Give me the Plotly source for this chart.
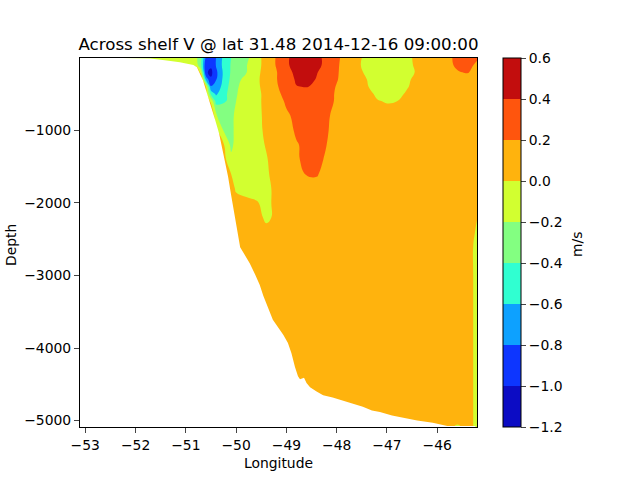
import plotly.graph_objects as go

lon = [-53.1, -51.6, -51.0, -50.8, -50.7, -50.6, -50.5, -50.4, -50.2, -50.1, -50.0, -49.8, -49.6, -49.4, -49.2, -49.0,
       -48.8, -48.6, -48.4, -48.2, -48.0, -47.8, -47.6, -47.4, -47.2, -47.0, -46.8, -46.6, -46.4, -46.2, -46.0,
       -45.8, -45.6, -45.4, -45.3, -45.2]
depth = [0, -100, -200, -300, -400, -500, -600, -800, -1000, -1200, -1400, -1600, -1800, -2000, -2200, -2400,
         -2600, -3000, -5000, -5100]

v_0000 = [-.1, -.1, -.1, -.15, -.33, -.85, -.9, -.8, -.47, -.4, -.33, -.24, -.1, .1, .21, .36, .5, .52, .48, .32, .24, .12, .05, -.05, -.09, -.1, -.1, -.06, .06, .1, .14, .17, .23, .28, .26, .21]
v_0100 = [-.05, -.05, -.05, -.1, -.35, -.97, -.96, -.79, -.46, -.39, -.32, -.21, -.1, .1, .21, .36, .5, .54, .49, .31, .23, .11, .04, -.06, -.1, -.12, -.12, -.07, .05, .1, .13, .17, .22, .23, .205, .18]
v_0200 = [.1, .1, .1, .3, -.1, -.97, -1.05, -.85, -.47, -.385, -.3, -.21, -.07, .1, .19, .33, .45, .5, .41, .33, .22, .12, .05, -.03, -.1, -.13, -.13, -.09, .03, .07, .1, .14, .19, .21, .18, .14]
v_0300 = [.2, .2, .2, .4, .3, -.65, -.97, -.81, -.47, -.365, -.26, -.14, -.05, .1, .19, .32, .42, .46, .39, .3, .21, .13, .07, 0, -.07, -.1, -.1, -.03, .05, .08, .09, .1, .13, .13, .11, .09]
v_0400 = [.2, .2, .2, .4, .35, 0, -.78, -.74, -.45, -.335, -.22, -.14, -.05, .08, .18, .28, .395, .405, .38, .27, .19, .13, .08, .01, -.05, -.08, -.07, -.01, .05, .07, .08, .09, .09, .08, .07, .07]
v_0500 = [.2, .2, .2, .3, .3, .1, -.45, -.63, -.42, -.315, -.21, -.13, -.05, .05, .16, .25, .3, .33, .31, .26, .18, .13, .09, .04, -.02, -.05, -.04, .02, .05, .07, .08, .08, .08, .07, .06, .06]
v_0600 = [.2, .2, .2, .3, .3, .2, -.05, -.46, -.4, -.3, -.2, -.12, -.05, .05, .14, .22, .27, .3, .29, .25, .18, .13, .09, .05, .01, -.01, 0, .04, .06, .07, .08, .08, .07, .06, .05, .05]
v_0800 = [.2, .2, .2, .3, .3, .3, .3, -.18, -.3, -.235, -.17, -.11, -.05, .04, .11, .18, .23, .27, .26, .22, .16, .12, .1, .08, .07, .06, .05, .06, .07, .07, .08, .08, .07, .06, .05, .04]
v_1000 = [.2, .2, .2, .3, .3, .3, .3, .05, -.3, -.24, -.16, -.1, -.05, .03, .09, .15, .22, .25, .24, .21, .16, .12, .1, .08, .07, .06, .06, .06, .07, .07, .08, .08, .07, .06, .05, .03]
v_1200 = [.2, .2, .2, .3, .3, .3, .3, .2, -.05, -.25, -.13, -.09, -.05, .01, .08, .14, .19, .23, .23, .2, .15, .12, .1, .08, .07, .06, .06, .06, .07, .07, .08, .08, .07, .06, .05, .03]
v_1400 = [.2, .2, .2, .3, .3, .3, .3, .2, 0, -.15, -.1, -.08, -.05, -.01, .06, .12, .19, .22, .22, .19, .15, .12, .1, .08, .07, .06, .06, .06, .07, .07, .08, .08, .07, .06, .05, .03]
v_1600 = [.2, .2, .2, .3, .3, .3, .3, .2, .1, 0, -.07, -.07, -.05, -.02, .05, .1, .15, .205, .205, .18, .14, .11, .1, .08, .07, .06, .06, .06, .07, .07, .08, .08, .07, .06, .05, .03]
v_1800 = [.2, .2, .2, .3, .3, .3, .3, .2, .15, .06, -.02, -.06, -.05, -.03, .03, .08, .12, .17, .18, .16, .13, .11, .1, .08, .07, .06, .06, .06, .07, .07, .08, .08, .07, .06, .05, .02]
v_2000 = [.2, .2, .2, .3, .3, .3, .3, .2, .15, .1, .05, .04, .01, -.03, .03, .07, .1, .14, .16, .15, .12, .1, .09, .08, .07, .06, .06, .06, .07, .07, .08, .08, .07, .06, .04, .01]
v_2200 = [.2, .2, .2, .3, .3, .3, .3, .2, .15, .1, .08, .06, .04, -.02, .02, .06, .08, .1, .12, .12, .1, .09, .09, .08, .07, .06, .06, .06, .07, .07, .08, .08, .07, .06, .03, 0]
v_2400 = [.2, .2, .2, .3, .3, .3, .3, .2, .15, .1, .08, .07, .06, .03, .05, .06, .07, .09, .1, .1, .1, .09, .09, .08, .07, .06, .06, .06, .07, .07, .08, .08, .07, .06, .02, -.02]
v_2600 = [.2, .2, .2, .3, .3, .3, .3, .2, .15, .1, .08, .07, .07, .06, .06, .06, .07, .08, .09, .09, .09, .09, .09, .08, .07, .06, .06, .06, .07, .07, .08, .08, .07, .06, .005, -.03]
v_3000 = [.2, .2, .2, .3, .3, .3, .3, .2, .15, .1, .08, .07, .07, .07, .07, .07, .07, .08, .08, .08, .08, .08, .08, .08, .07, .07, .07, .07, .07, .07, .07, .07, .07, .06, .005, -.03]
v_5000 = [.1, .1, .1, .1, .1, .1, .1, .1, .1, .1, .08, .07, .07, .07, .07, .07, .07, .07, .07, .07, .07, .07, .07, .07, .07, .07, .07, .07, .07, .07, .07, .06, .06, .06, .005, -.03]
v_5100 = [.1, .1, .1, .1, .1, .1, .1, .1, .1, .1, .08, .07, .07, .07, .07, .07, .07, .07, .07, .07, .07, .07, .07, .07, .07, .07, .07, .07, .07, .07, .07, .06, -.05, .06, .005, -.03]
velocity_rows = [v_0000, v_0100, v_0200, v_0300, v_0400, v_0500, v_0600, v_0800, v_1000, v_1200, v_1400, v_1600,
                 v_1800, v_2000, v_2200, v_2400, v_2600, v_3000, v_5000, v_5100]

floor_lon = [-53.3, -51.71, -51.42, -51.12, -50.85, -50.78, -50.66, -50.58, -50.52, -50.42, -50.34, -50.22, -50.16, -50.1,
             -50.04, -49.98, -49.92, -49.86, -49.73, -49.62, -49.53, -49.46, -49.39, -49.27, -49.17, -49.06, -48.97, -48.9,
             -48.83, -48.77, -48.73, -48.65, -48.6, -48.53, -48.4, -48.27, -48.08, -47.88, -47.68, -47.48, -47.3, -47.14,
             -46.9, -46.69, -46.4, -46.09, -45.8, -45.28, -45.24, -45.24, -53.3]
floor_depth = [10, -10, -35, -60, -100, -130, -310, -480, -625, -850, -1040, -1410, -1640, -1890,
               -2150, -2400, -2610, -2680, -2830, -2990, -3130, -3280, -3400, -3610, -3710, -3820, -3930, -4070,
               -4260, -4390, -4430, -4410, -4480, -4540, -4600, -4650, -4680, -4720, -4770, -4810, -4860, -4880,
               -4930, -4960, -5000, -5030, -5075, -5075, -5075, -5200, -5200]

level_colors = ["#0c0cc4", "#0d36ff", "#0da1ff", "#30ffd1", "#83ff81", "#d2ff30", "#ffb30d", "#ff550d", "#c20d0d"]
tick_values = [-1.2, -1.0, -0.8, -0.6, -0.4, -0.2, 0.0, 0.2, 0.4, 0.6]
tick_labels = ["\u22121.2", "\u22121.0", "\u22120.8", "\u22120.6", "\u22120.4", "\u22120.2", "0.0", "0.2", "0.4", "0.6"]

n = len(level_colors)
colorscale = []
for i, c in enumerate(level_colors):
    colorscale.append([i / n, c])
    colorscale.append([(i + 1) / n, c])

FONT = "DejaVu Sans"
PW, PH = 397, 369
black_font = dict(family=FONT, size=13.9, color="black")
fig = go.Figure()
fig.add_trace(go.Contour(
    x=lon, y=depth, z=velocity_rows, zmin=-1.2, zmax=0.600001, colorscale=colorscale,
    contours=dict(start=-1.2, end=0.6, size=0.2, coloring="fill", showlines=False),
    line=dict(width=0, smoothing=1.3), hoverinfo="skip",
    colorbar=dict(x=(503 - 80) / PW, xanchor="left", xpad=0, y=0, yanchor="bottom", ypad=0, len=1,
                  thickness=18, outlinewidth=1, outlinecolor="black", ticks="outside", ticklen=5, tickwidth=1,
                  tickvals=tick_values, ticktext=tick_labels, tickfont=black_font),
))
fig.add_trace(go.Scatter(x=floor_lon, y=floor_depth, mode="lines", fill="toself", fillcolor="white",
                         line=dict(width=0, color="white"), showlegend=False, hoverinfo="skip"))
fig.update_layout(
    template="none",
    width=640, height=480, autosize=False, showlegend=False,
    margin=dict(l=80, r=163, t=58, b=53, autoexpand=False), paper_bgcolor="white", plot_bgcolor="white",
    font=black_font,
    title=dict(text="Across shelf V @ lat 31.48 2014-12-16 09:00:00", x=278.5 / 640, xanchor="center",
               y=1 - 44 / 480, yanchor="middle", font=dict(family=FONT, size=16.67, color="black")),
    xaxis=dict(range=[-53.105, -45.21], tickmode="array", tickvals=[-53, -52, -51, -50, -49, -48, -47, -46],
               ticktext=["\u221253", "\u221252", "\u221251", "\u221250", "\u221249", "\u221248", "\u221247", "\u221246"],
               ticks="outside", ticklen=5, tickwidth=1, showgrid=False, zeroline=False, showline=True, automargin=False,
               linecolor="black", linewidth=1, mirror=True,
               title=dict(text="Longitude", standoff=6, font=black_font)),
    yaxis=dict(range=[-5088, -3], tickmode="array", tickvals=[-5000, -4000, -3000, -2000, -1000],
               ticktext=["\u22125000", "\u22124000", "\u22123000", "\u22122000", "\u22121000"],
               ticks="outside", ticklen=5, tickwidth=1, showgrid=False, zeroline=False, showline=True, automargin=False,
               linecolor="black", linewidth=1, mirror=True),
    annotations=[
        dict(text="Depth", xref="paper", yref="paper", x=(11 - 80) / PW, y=(427 - 245) / PH, showarrow=False,
             textangle=-90, xanchor="center", yanchor="middle", font=black_font),
        dict(text="m/s", xref="paper", yref="paper", x=(577 - 80) / PW, y=(427 - 245) / PH, showarrow=False,
             textangle=-90, xanchor="center", yanchor="middle", font=black_font),
    ],
)
fig.write_html("out.html", config={"displayModeBar": False}, post_script="document.body.style.margin='0';")
